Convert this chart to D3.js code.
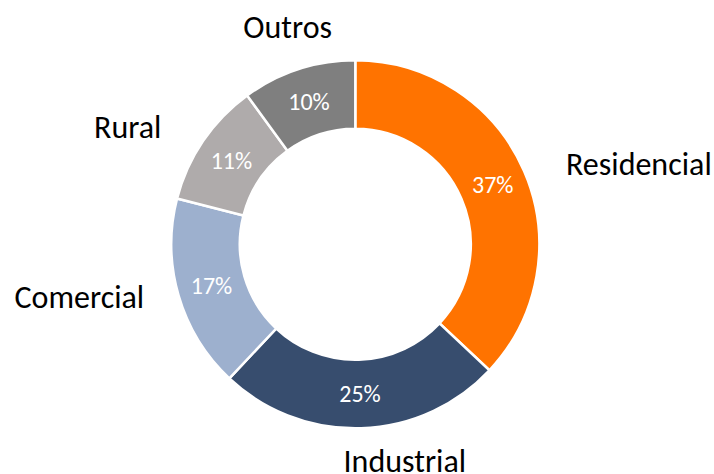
<!DOCTYPE html>
<html>
<head>
    <meta charset="utf-8">
    <style>
        html, body {
            margin: 0;
            padding: 0;
            background: #ffffff;
        }

        svg {
            display: block;
        }

        text {
            font-family: Carlito, Calibri, Lato, "Open Sans", sans-serif;
        }
    </style>
</head>
<body>
<div id="chart"></div>

<script src="https://cdn.jsdelivr.net/npm/d3@7"></script>
<script>
    "use strict";

    // data (share of consumption, %)
    const categories = ["Residencial", "Industrial", "Comercial", "Rural", "Outros"];
    const values = [37, 25, 17, 11, 10];
    const colors = ["#ff7300", "#374d6e", "#9db0ce", "#afabab", "#7f7f7f"];

    // small hand nudges for the category labels, as placed in the original
    const labelShift = [[24, 7], [41, -3], [-12, -9], [-26, 6], [11, -8]];

    const WIDTH = 714;
    const HEIGHT = 474;
    const CX = 355.3;
    const CY = 244.3;
    const OUTER_R = 184;
    const INNER_R = 115.5;
    const LABEL_R = 210;
    const CAT_FONT = 32;
    const PCT_FONT = 24;

    const slices = categories.map(function (c, i) {
        return {category: c, value: values[i], color: colors[i], shift: labelShift[i]};
    });

    const svg = d3.select("#chart")
        .append("svg")
        .attr("width", WIDTH)
        .attr("height", HEIGHT);

    const g = svg.append("g")
        .attr("transform", "translate(" + CX + "," + CY + ")");

    const pie = d3.pie()
        .value(function (d) { return d.value; })
        .sort(null);

    const arc = d3.arc()
        .innerRadius(INNER_R)
        .outerRadius(OUTER_R);

    const arcs = pie(slices);

    g.selectAll("path.slice")
        .data(arcs)
        .enter()
        .append("path")
        .attr("class", "slice")
        .attr("d", arc)
        .style("fill", function (d) { return d.data.color; })
        .style("stroke", "#ffffff")
        .style("stroke-width", 2.5);

    // percentages inside the ring
    g.selectAll("text.pct")
        .data(arcs)
        .enter()
        .append("text")
        .attr("class", "pct")
        .attr("transform", function (d) {
            return "translate(" + arc.centroid(d) + ")";
        })
        .attr("text-anchor", "middle")
        .attr("dy", "0.35em")
        .style("font-size", PCT_FONT + "px")
        .style("fill", "#ffffff")
        .text(function (d) { return d.data.value + "%"; });

    // category names outside the ring
    const catLabels = g.selectAll("text.cat")
        .data(arcs)
        .enter()
        .append("text")
        .attr("class", "cat")
        .attr("text-anchor", "middle")
        .attr("dy", "0.35em")
        .style("font-size", CAT_FONT + "px")
        .style("fill", "#000000")
        .text(function (d) { return d.data.category; });

    catLabels.attr("transform", function (d) {
        const a = (d.startAngle + d.endAngle) / 2;
        const w = this.getComputedTextLength();
        const h = CAT_FONT * 0.62;
        const x = LABEL_R * Math.sin(a) + w / 2 * Math.sin(a) + d.data.shift[0];
        const y = -LABEL_R * Math.cos(a) - h / 2 * Math.cos(a) + d.data.shift[1];
        return "translate(" + x + "," + y + ")";
    });
</script>
</body>
</html>
